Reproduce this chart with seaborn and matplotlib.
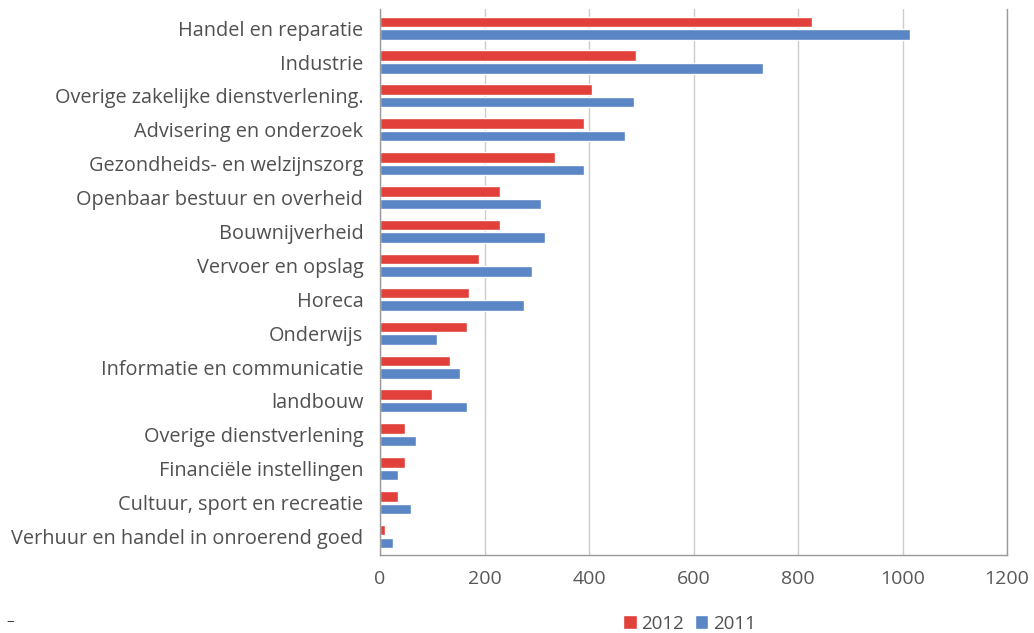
import numpy as np
import pandas as pd
import seaborn as sns
import matplotlib.pyplot as plt

sectoren = [
    "Handel en reparatie",
    "Industrie",
    "Overige zakelijke dienstverlening.",
    "Advisering en onderzoek",
    "Gezondheids- en welzijnszorg",
    "Openbaar bestuur en overheid",
    "Bouwnijverheid",
    "Vervoer en opslag",
    "Horeca",
    "Onderwijs",
    "Informatie en communicatie",
    "landbouw",
    "Overige dienstverlening",
    "Financiële instellingen",
    "Cultuur, sport en recreatie",
    "Verhuur en handel in onroerend goed",
]
waarden_2012 = [826, 490, 406, 391, 334, 230, 230, 190, 170, 166, 134, 99, 48, 48, 34, 9]
waarden_2011 = [1015, 733, 486, 469, 391, 309, 315, 290, 276, 109, 154, 166, 69, 34, 59, 24]
jaren = ["2012", "2011"]
kleuren = ["#E2403A", "#5A86C6"]

df = pd.DataFrame({
    "sector": sectoren * 2,
    "jaar": ["2012"] * len(sectoren) + ["2011"] * len(sectoren),
    "aantal": waarden_2012 + waarden_2011,
})

sns.set_style("white")
plt.rcParams["font.family"] = ["Open Sans", "DejaVu Sans"]

fig = plt.figure(figsize=(10.34, 6.33), dpi=100)
ax = fig.add_axes([0.3675, 0.123, 0.6065, 0.862])

sns.barplot(data=df, x="aantal", y="sector", hue="jaar", hue_order=jaren,
            palette=kleuren, orient="h", width=0.74, gap=0.16, saturation=1,
            ax=ax, legend=True)

ax.set_xlim(0, 1200)
ax.set_xticks(range(0, 1201, 200))
ax.set_xlabel("")
ax.set_ylabel("")
ax.set_ylim(15.55, -0.55)
ax.grid(axis="x", color="#cccccc", linewidth=1)
ax.set_axisbelow(True)
for kant in ["left", "bottom", "right"]:
    ax.spines[kant].set_color("#9a9a9a")
    ax.spines[kant].set_linewidth(1)
ax.spines["top"].set_visible(False)
ax.tick_params(axis="y", length=0, pad=12, labelsize=14.3, labelcolor="#505050")
ax.tick_params(axis="x", length=0, pad=11, labelsize=14, labelcolor="#585858")

handles, labels = ax.get_legend_handles_labels()
ax.legend_.remove()
fig.legend(handles, labels, loc="center", bbox_to_anchor=(0.667, 0.015), ncol=2,
           frameon=False, handlelength=0.7, handleheight=0.7, handletextpad=0.25,
           columnspacing=0.6, fontsize=13.5, labelcolor="#505050")

fig.text(0.006, 0.013, "–", fontsize=11, color="#404040")

fig.savefig("out.png", dpi=100)
